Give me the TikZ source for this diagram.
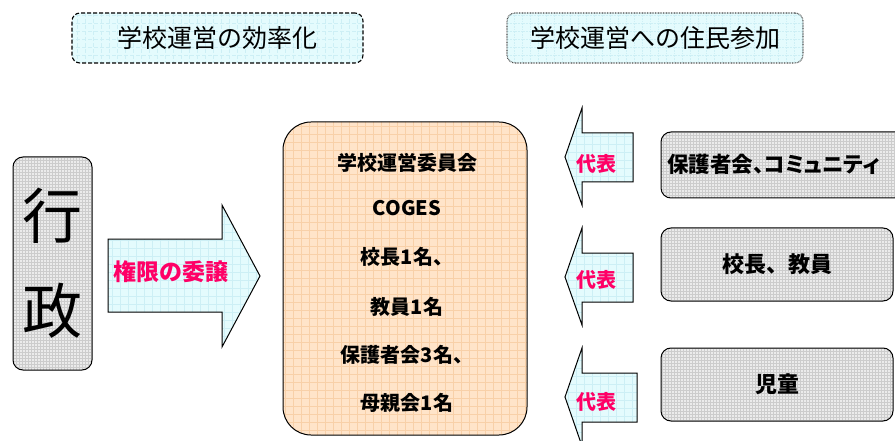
\documentclass[tikz,border=0pt]{standalone}
\usepackage{fontspec}
\setmainfont{Noto Sans CJK JP}
\definecolor{cyanfill}{HTML}{E4FBFD}
\definecolor{cyangrid}{HTML}{CDEFF5}
\definecolor{peachfill}{HTML}{FFE4C9}
\definecolor{peachgrid}{HTML}{F8D0A8}
\definecolor{grayfill}{HTML}{EBEBEB}
\definecolor{graygrid}{HTML}{CCCCCC}
\definecolor{pinktext}{HTML}{FF0066}
\tikzset{
  gridfill/.style 2 args={fill=#1, path picture={\draw[#2,line width=0.35pt]
     ([shift={(-2pt,-2pt)}]path picture bounding box.south west) grid[step=8pt]
     ([shift={(2pt,2pt)}]path picture bounding box.north east);}},
  finefill/.style={fill=grayfill, path picture={\draw[graygrid,line width=0.3pt]
     ([shift={(-2pt,-2pt)}]path picture bounding box.south west) grid[step=3pt]
     ([shift={(2pt,2pt)}]path picture bounding box.north east);}},
  titlebox/.style={draw, rounded corners=8pt, gridfill={cyanfill}{cyangrid},
     inner sep=0pt, font=\fontsize{25}{30}\selectfont},
  graybox/.style={draw, line width=1pt, rounded corners=10pt, finefill, inner sep=0pt},
  arrowshape/.style={draw, line width=1pt, gridfill={cyanfill}{cyangrid}},
  pinklabel/.style={text=pinktext, font=\bfseries\fontsize{20}{24}\selectfont, inner sep=0pt},
  boldtext/.style={font=\bfseries\fontsize{20}{24}\selectfont, inner sep=0pt},
}
\begin{document}
\begin{tikzpicture}[x=1pt,y=-1pt]
\useasboundingbox (0,0) rectangle (895,441);
\begin{scope}
\clip (0,0) rectangle (895,441);
% titles
\node[titlebox, dash pattern=on 4pt off 2pt, line width=1.1pt, minimum width=291pt, minimum height=50pt] (t1) at (217.5,38) {学校運営の効率化};
\node[titlebox, draw=black!70, dash pattern=on 0.8pt off 0.8pt, line width=1.1pt, minimum width=296pt, minimum height=50pt] (t2) at (655,38) {学校運営への住民参加};
% gyosei
\node[graybox, minimum width=79pt, minimum height=213pt, align=center, font=\fontsize{60}{95}\selectfont] (gy) at (52.5,263.5) {行\\政};
% big arrow
\path[arrowshape] (108,239) -- (222,239) -- (222,205) -- (260,276) -- (222,347) -- (222,312) -- (108,312) -- cycle;
\node[pinklabel, font=\bfseries\fontsize{23}{26}\selectfont] (lab0) at (171,272) {権限の委譲};
% center box
\node[draw, line width=1pt, rounded corners=28pt, gridfill={peachfill}{peachgrid}, minimum width=244pt, minimum height=313pt] (cb) at (405,278.5) {};
\node[boldtext] (c1) at (407,163) {学校運営委員会};
\node[boldtext] (c2) at (407,208) {COGES};
\node[boldtext] (c3) at (407,257) {校長1名、};
\node[boldtext] (c4) at (407,307) {教員1名};
\node[boldtext] (c5) at (407,355) {保護者会3名、};
\node[boldtext] (c6) at (407,403) {母親会1名};
% small arrows
\path[arrowshape] (633,133) -- (582,133) -- (582,108) -- (565,157) -- (582,205) -- (582,182) -- (633,182) -- cycle;
\path[arrowshape] (633,253) -- (582,253) -- (582,228) -- (565,277) -- (582,325) -- (582,302) -- (633,302) -- cycle;
\path[arrowshape] (637,373) -- (582,373) -- (582,348) -- (565,397) -- (582,446) -- (582,422) -- (637,422) -- cycle;
\node[pinklabel] (lab1) at (596,164) {代表};
\node[pinklabel] (lab2) at (596,280) {代表};
\node[pinklabel] (lab3) at (596,402) {代表};
% right boxes
\node[graybox, minimum width=250pt, minimum height=66pt] (r1) at (786,165) {};
\node[boldtext, font=\bfseries\fontsize{21.5}{26}\selectfont\addfontfeatures{RawFeature=+palt}, anchor=west] (r1t) at (667,164) {保護者会、コミュニティ};
\node[graybox, minimum width=232pt, minimum height=73pt, boldtext, font=\bfseries\fontsize{22}{26}\selectfont] (r2) at (777,264.5) {校長、教員};
\node[graybox, minimum width=232pt, minimum height=73pt, boldtext, font=\bfseries\fontsize{22}{26}\selectfont] (r3) at (777,384.5) {児童};
\end{scope}
\end{tikzpicture}
\end{document}
